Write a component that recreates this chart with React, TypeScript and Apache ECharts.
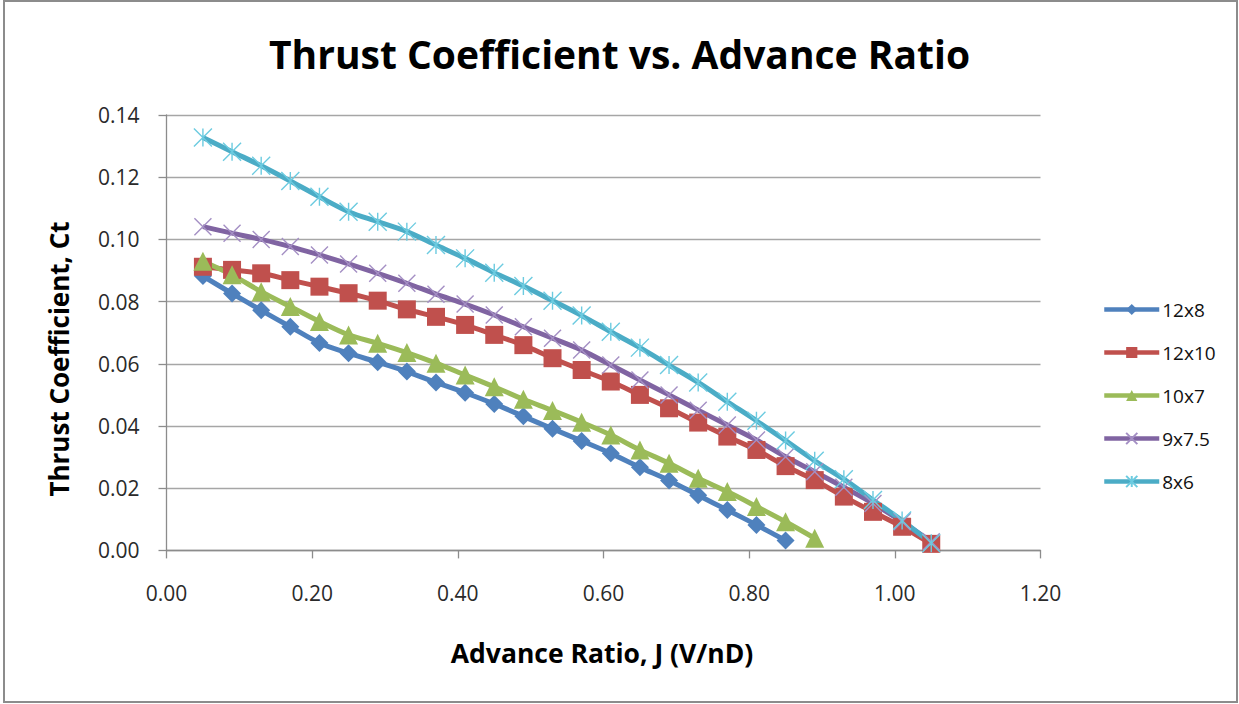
import React, { useEffect, useRef } from "react";
import * as echarts from "echarts";

// Advance ratio J (V/nD) sample points
const advanceRatio = [
  0.05, 0.09, 0.13, 0.17, 0.21, 0.25, 0.29, 0.33, 0.37, 0.41, 0.45, 0.49, 0.53,
  0.57, 0.61, 0.65, 0.69, 0.73, 0.77, 0.81, 0.85, 0.89, 0.93, 0.97, 1.01, 1.05,
];

// Thrust coefficient per propeller
const ct12x8 = [
  0.0882, 0.0826, 0.0772, 0.0719, 0.0667, 0.0634, 0.0605, 0.0575, 0.054, 0.0507,
  0.0471, 0.0431, 0.0391, 0.0352, 0.0312, 0.0267, 0.0225, 0.0177, 0.013, 0.0082,
  0.0032,
];
const ct12x10 = [
  0.0912, 0.0902, 0.0891, 0.0869, 0.0848, 0.0827, 0.0803, 0.0775, 0.0751, 0.0725,
  0.0693, 0.066, 0.0618, 0.058, 0.0543, 0.05, 0.0457, 0.0411, 0.0366, 0.0323,
  0.0271, 0.0226, 0.0173, 0.0124, 0.0076, 0.0021,
];
const ct10x7 = [
  0.093, 0.0886, 0.0832, 0.0784, 0.0736, 0.0693, 0.0666, 0.0636, 0.0602, 0.0564,
  0.0526, 0.0486, 0.045, 0.0412, 0.0371, 0.0323, 0.028, 0.0232, 0.0189, 0.0141,
  0.0092, 0.0039,
];
const ct9x75 = [
  0.1041, 0.102, 0.1, 0.0977, 0.095, 0.0921, 0.0891, 0.0859, 0.0824, 0.0792,
  0.0757, 0.0719, 0.0682, 0.0644, 0.0596, 0.0548, 0.05, 0.0451, 0.0403, 0.0355,
  0.0301, 0.0253, 0.0203, 0.0151, 0.0092, 0.0028,
];
const ct8x6 = [
  0.1328, 0.1282, 0.1237, 0.1188, 0.1137, 0.1089, 0.1057, 0.1025, 0.0982, 0.0939,
  0.0893, 0.085, 0.0803, 0.0755, 0.0703, 0.0652, 0.0596, 0.054, 0.0478, 0.0417,
  0.0353, 0.0288, 0.0229, 0.0162, 0.0096, 0.0023,
];

const seriesNames = ["12x8", "12x10", "10x7", "9x7.5", "8x6"];
const xTicks = [0, 0.2, 0.4, 0.6, 0.8, 1.0, 1.2];
const yTicks = [0, 0.02, 0.04, 0.06, 0.08, 0.1, 0.12, 0.14];

const FONT = "'Open Sans', 'Noto Sans', sans-serif";
const CROSS = "path://M0,0L10,10M10,0L0,10";
const STAR = "path://M0,0L10,10M10,0L0,10M5,0L5,10";

const pairs = (vals: number[]) => vals.map((v, i) => [advanceRatio[i], v]);

export default function App() {
  const ref = useRef<HTMLDivElement>(null);

  useEffect(() => {
    document.body.style.margin = "0";
    if (!ref.current) return;
    const chart = echarts.init(ref.current, null, { renderer: "svg" });

    const mk = (
      name: string,
      vals: number[],
      color: string,
      symbol: string,
      size: number,
      hollow?: string
    ) => ({
      name,
      type: "line",
      data: pairs(vals),
      smooth: 0.3,
      symbol,
      symbolSize: size,
      lineStyle: { color, width: 5 },
      itemStyle: hollow
        ? { color: "none", borderColor: hollow, borderWidth: 1.4 }
        : { color, borderWidth: 0 },
      emphasis: { disabled: true },
    });

    chart.setOption({
      animation: false,
      backgroundColor: "#ffffff",
      title: {
        text: "Thrust Coefficient vs. Advance Ratio",
        left: "center",
        top: 29,
        textStyle: {
          fontFamily: FONT,
          fontWeight: "bold",
          fontSize: 39,
          color: "#000",
        },
      },
      grid: { left: 166.5, right: 198.5, top: 115, bottom: 153.6 },
      xAxis: {
        type: "value",
        min: 0,
        max: 1.2,
        interval: 0.2,
        axisLine: { lineStyle: { color: "#8c8c8c", width: 1.3 } },
        axisTick: { show: true, length: 8, lineStyle: { color: "#8c8c8c", width: 1.3 } },
        splitLine: { show: false },
        axisLabel: {
          margin: 32,
          fontFamily: FONT,
          fontSize: 21,
          color: "#2a2a2a",
          formatter: (v: number) =>
            xTicks.some((t) => Math.abs(t - v) < 1e-9) ? v.toFixed(2) : "",
        },
      },
      yAxis: {
        type: "value",
        min: 0,
        max: 0.14,
        interval: 0.02,
        axisLine: { show: true, lineStyle: { color: "#8c8c8c", width: 1.3 } },
        axisTick: { show: true, length: 8, lineStyle: { color: "#8c8c8c", width: 1.3 } },
        splitLine: { lineStyle: { color: "#a6a6a6", width: 1.3 } },
        axisLabel: {
          margin: 27,
          fontFamily: FONT,
          fontSize: 21,
          color: "#2a2a2a",
          formatter: (v: number) =>
            yTicks.some((t) => Math.abs(t - v) < 1e-9) ? v.toFixed(2) : "",
        },
      },
      legend: {
        orient: "vertical",
        left: 1097,
        top: 295,
        itemWidth: 55,
        itemHeight: 14,
        itemGap: 24,
        data: seriesNames,
        lineStyle: { width: 4.5 },
        textStyle: { fontFamily: FONT, fontSize: 19, color: "#111", padding: [0, 0, 0, -2] },
      },
      graphic: [
        {
          type: "rect",
          shape: { x: 4, y: 1, width: 1233, height: 701 },
          style: { fill: "none", stroke: "#8c8c8c", lineWidth: 2 },
          silent: true,
        },
        {
          type: "text",
          x: 602,
          y: 653,
          style: {
            text: "Advance Ratio, J (V/nD)",
            fontFamily: FONT,
            fontWeight: "bold",
            fontSize: 26.5,
            fill: "#000",
            align: "center",
            verticalAlign: "middle",
          },
        },
        {
          type: "text",
          x: 59,
          y: 359,
          rotation: Math.PI / 2,
          style: {
            text: "Thrust Coefficient, Ct",
            fontFamily: FONT,
            fontWeight: "bold",
            fontSize: 26,
            fill: "#000",
            align: "center",
            verticalAlign: "middle",
          },
        },
      ],
      series: [
        mk(seriesNames[0], ct12x8, "#4F81BD", "diamond", 18),
        mk(seriesNames[1], ct12x10, "#C0504D", "rect", 18),
        mk(seriesNames[2], ct10x7, "#9BBB59", "triangle", 19),
        mk(seriesNames[3], ct9x75, "#8064A2", CROSS, 17, "#A48FC4"),
        mk(seriesNames[4], ct8x6, "#4BACC6", STAR, 18, "#6CCBE0"),
      ],
    });

    return () => chart.dispose();
  }, []);

  return <div ref={ref} style={{ width: 1239, height: 704 }} />;
}
